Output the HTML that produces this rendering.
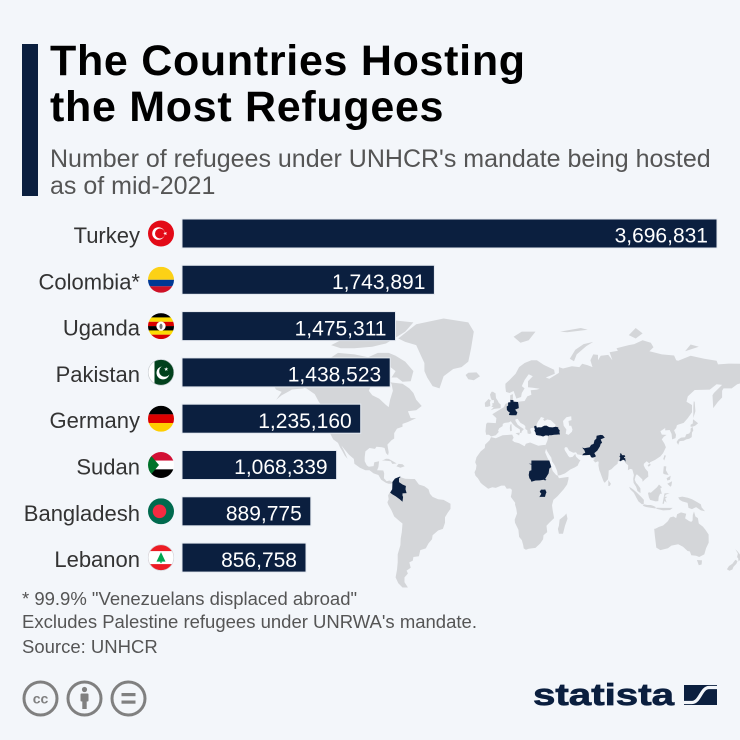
<!DOCTYPE html>
<html><head><meta charset="utf-8"><style>
html,body{margin:0;padding:0;background:#f3f6fa;}
svg{display:block;font-family:"Liberation Sans",Arial,sans-serif;}
</style></head><body>
<svg id="s" width="740" height="740" viewBox="0 0 740 740" xmlns="http://www.w3.org/2000/svg">
<defs><clipPath id="fc"><circle cx="0" cy="0" r="13"/></clipPath></defs>
<rect x="0" y="0" width="740" height="740" fill="#f3f6fa"/>
<g id="map"></g>
<rect x="22" y="44" width="16" height="152" fill="#0b1f3f"/>
<text x="50" y="75" font-size="43" font-weight="bold" fill="#000" letter-spacing="0.7">The Countries Hosting</text>
<text x="50" y="121" font-size="43" font-weight="bold" fill="#000" letter-spacing="0.7">the Most Refugees</text>
<text x="50" y="167" font-size="25" fill="#555">Number of refugees under UNHCR's mandate being hosted</text>
<text x="50" y="194" font-size="25" fill="#555">as of mid-2021</text>

<g stroke="#e4e9f0" stroke-width="1" fill="#0b1f3f">
<rect x="182" y="219" width="535" height="29"/>
<rect x="182" y="265.3" width="252.4" height="29"/>
<rect x="182" y="311.6" width="213.5" height="29"/>
<rect x="182" y="357.9" width="208.2" height="29"/>
<rect x="182" y="404.2" width="178.7" height="29"/>
<rect x="182" y="450.5" width="154.6" height="29"/>
<rect x="182" y="496.8" width="128.8" height="29"/>
<rect x="182" y="543.1" width="124" height="29"/>
</g>
<g font-size="21" fill="#fff" text-anchor="end">
<text x="708" y="242.7">3,696,831</text>
<text x="425.4" y="289">1,743,891</text>
<text x="386.5" y="335.3">1,475,311</text>
<text x="381.2" y="381.6">1,438,523</text>
<text x="351.7" y="427.9">1,235,160</text>
<text x="327.6" y="474.2">1,068,339</text>
<text x="301.8" y="520.5">889,775</text>
<text x="297" y="566.8">856,758</text>
</g>
<g font-size="22" fill="#333" text-anchor="end">
<text x="140" y="243">Turkey</text>
<text x="140" y="289.3">Colombia*</text>
<text x="140" y="335.6">Uganda</text>
<text x="140" y="381.9">Pakistan</text>
<text x="140" y="428.2">Germany</text>
<text x="140" y="474.5">Sudan</text>
<text x="140" y="520.8">Bangladesh</text>
<text x="140" y="567.1">Lebanon</text>
</g>

<!-- Flags -->
<g transform="translate(161,233.5)"><g clip-path="url(#fc)">
<rect x="-13" y="-13" width="26" height="26" fill="#e30a17"/>
<circle cx="-2.5" cy="0" r="6.3" fill="#fff"/><circle cx="-1" cy="0" r="5" fill="#e30a17"/>
<polygon transform="translate(4.3,0) rotate(-90)" points="0,-2.2 0.5,-0.69 2.09,-0.68 0.81,0.26 1.29,1.78 0,0.85 -1.29,1.78 -0.81,0.26 -2.09,-0.68 -0.5,-0.69" fill="#fff"/>
</g></g>
<g transform="translate(161,279.8)"><g clip-path="url(#fc)">
<rect x="-13" y="-13" width="26" height="13" fill="#fcd116"/>
<rect x="-13" y="0" width="26" height="6.5" fill="#003893"/>
<rect x="-13" y="6.5" width="26" height="6.5" fill="#ce1126"/>
</g></g>
<g transform="translate(161,326.1)"><g clip-path="url(#fc)">
<rect x="-13" y="-13" width="26" height="4.4" fill="#000"/>
<rect x="-13" y="-8.7" width="26" height="4.4" fill="#fcdc04"/>
<rect x="-13" y="-4.3" width="26" height="4.4" fill="#d90000"/>
<rect x="-13" y="0" width="26" height="4.4" fill="#000"/>
<rect x="-13" y="4.3" width="26" height="4.4" fill="#fcdc04"/>
<rect x="-13" y="8.6" width="26" height="4.4" fill="#d90000"/>
<circle cx="0" cy="0" r="4.6" fill="#fff"/>
<ellipse cx="0" cy="0.3" rx="1.5" ry="2.8" fill="#777"/>
</g></g>
<g transform="translate(161,372.4)"><g clip-path="url(#fc)">
<rect x="-13" y="-13" width="26" height="26" fill="#01411c"/>
<rect x="-13" y="-13" width="6.5" height="26" fill="#fff"/>
<circle cx="2" cy="0.5" r="6.5" fill="#fff"/><circle cx="3.8" cy="-1.2" r="5.6" fill="#01411c"/>
<polygon transform="translate(5.2,-3.2)" points="0,-2.2 0.5,-0.69 2.09,-0.68 0.81,0.26 1.29,1.78 0,0.85 -1.29,1.78 -0.81,0.26 -2.09,-0.68 -0.5,-0.69" fill="#fff"/>
</g><circle cx="0" cy="0" r="12.8" fill="none" stroke="#c8ccd2" stroke-width="0.6"/></g>
<g transform="translate(161,418.7)"><g clip-path="url(#fc)">
<rect x="-13" y="-13" width="26" height="8.7" fill="#000"/>
<rect x="-13" y="-4.35" width="26" height="8.7" fill="#dd0000"/>
<rect x="-13" y="4.33" width="26" height="8.7" fill="#ffce00"/>
</g></g>
<g transform="translate(161,465)"><g clip-path="url(#fc)">
<rect x="-13" y="-13" width="26" height="8.7" fill="#d21034"/>
<rect x="-13" y="-4.35" width="26" height="8.7" fill="#fff"/>
<rect x="-13" y="4.33" width="26" height="8.7" fill="#000"/>
<polygon points="-13,-13 -2,0 -13,13" fill="#007229"/>
</g></g>
<g transform="translate(161,511.3)"><g clip-path="url(#fc)">
<rect x="-13" y="-13" width="26" height="26" fill="#006a4e"/>
<circle cx="-1.5" cy="0" r="6.8" fill="#f42a41"/>
</g></g>
<g transform="translate(161,557.6)"><g clip-path="url(#fc)">
<rect x="-13" y="-13" width="26" height="26" fill="#ed1c24"/>
<rect x="-13" y="-6.5" width="26" height="13" fill="#fff"/>
<polygon points="0,-5.5 4.5,4 -4.5,4" fill="#00a651"/>
<rect x="-0.6" y="3.5" width="1.2" height="2" fill="#00a651"/>
</g><circle cx="0" cy="0" r="12.8" fill="none" stroke="#d0d4da" stroke-width="0.6"/></g>

<!-- Footer -->
<g font-size="18.5" fill="#555">
<text x="22" y="605">* 99.9% "Venezuelans displaced abroad"</text>
<text x="22" y="628">Excludes Palestine refugees under UNRWA's mandate.</text>
<text x="22" y="653">Source: UNHCR</text>
</g>
<g fill="none" stroke="#808080" stroke-width="3">
<circle cx="40.5" cy="698.5" r="16.5"/>
<circle cx="84.5" cy="698.5" r="16.5"/>
<circle cx="128.5" cy="698.5" r="16.5"/>
</g>
<text x="40.5" y="703.5" font-size="14" font-weight="bold" fill="#808080" text-anchor="middle">cc</text>
<g fill="#808080">
<circle cx="84.5" cy="689.5" r="2.6"/>
<rect x="80.5" y="693.5" width="8" height="8" rx="1"/>
<rect x="82.3" y="700" width="4.4" height="9"/>
<rect x="121.5" y="693" width="14" height="3.2"/>
<rect x="121.5" y="700.5" width="14" height="3.2"/>
</g>
<text x="533" y="705" font-size="31" font-weight="bold" fill="#0b1f3f" stroke="#0b1f3f" stroke-width="0.7" textLength="141" lengthAdjust="spacingAndGlyphs">statista</text>
<rect x="684" y="685" width="33" height="20" fill="#0b1f3f"/>
<path d="M684,702.5 L692,702.5 C700,702.5 701,687.5 709,687.5 L717,687.5" fill="none" stroke="#f3f6fa" stroke-width="3.2"/>
</svg>
<script>
(function(){
function P(lon,lat){var r=lat*Math.PI/180;var m=1.25*Math.log(Math.tan(Math.PI/4+0.4*r))*180/Math.PI;var k=m<0?1.5:1.56;return (498.5+1.372*lon).toFixed(1)+','+(495.4-k*m).toFixed(1);}
function path(a){var s='M';for(var i=0;i<a.length;i+=2){s+=(i?' L':'')+P(a[i],a[i+1]);}return s+'Z';}
var NS='http://www.w3.org/2000/svg';var g=document.getElementById('map');
function add(list,fill){for(var i=0;i<list.length;i++){var p=document.createElementNS(NS,'path');p.setAttribute('d',path(list[i]));p.setAttribute('fill',fill);g.appendChild(p);}}
var land=[
[-165,62,-165,68,-156,71.3,-141,69.6,-128,70,-115,68.5,-95,68,-90,69,-82,69.5,-81,64,-78,62.5,-70,62,-65,60,-62,58,-60,55,-56,52,-60,50,-66,49.5,-64,46,-60,46,-66,44,-70,43,-70,41.5,-74,40.5,-76,38,-76,35,-78,34,-81,31.5,-80,27,-80.5,25.2,-82,26.5,-83,29.5,-85,30,-89,30.2,-90,29,-94,29.5,-97,27.5,-97.5,24,-97.5,21.5,-96,19,-94.5,18.2,-91,18.6,-90.5,21,-87,21.5,-87.5,18,-88.5,16,-84,15.8,-83.3,14,-83.5,11,-81.5,9,-79.5,9.5,-77.5,8.5,-78,7.5,-80,7.5,-82,8,-85.5,10,-87.5,13,-91,14,-94,16,-97,16,-101,17.5,-105,20,-105.5,23,-109,25.5,-112.5,29,-114.5,31,-112,27,-110,23,-112,25,-114,28,-115.5,30,-117,32.5,-120.5,34.5,-122.5,37.5,-124,40.5,-124,46,-124.5,48.5,-127,50.5,-131,54,-134,57.5,-140,60,-147,61,-152,59,-158,57,-162,55,-158,58.5,-162,59.5],
[-125,71,-117,73.5,-105,73,-95,72,-88,73.5,-80,73.5,-75,72.5,-68,70.5,-62,67,-64,63,-70,62.8,-74,64.5,-78,64.5,-75,67,-82,69.8,-90,70.5,-98,69.5,-108,69,-118,69.5],
[-122,76,-115,77.5,-100,79,-90,81,-75,83,-62,82.5,-68,80,-76,78,-82,76.5,-92,75.5,-105,75,-115,75],
[-73,78,-60,82,-40,83.5,-22,82.5,-18,80,-20,75,-22,70.5,-27,68.5,-33,67.8,-40,65,-43,60,-48,61,-52,64.5,-54,67,-54,70,-56,72,-60,76,-68,77],
[-24,65.5,-22,66.4,-16,66.5,-13.5,65,-18,63.4,-22,63.8],
[-85,21.9,-82,23.1,-80,23,-77,21.6,-74.2,20.2,-77.5,19.9,-78.5,21.5,-81,21.8,-83.5,22],
[-74.4,18.4,-72.8,19.9,-70,19.7,-68.4,18.5,-71.5,17.6,-73.5,18.2],
[-77.5,8.5,-75.5,10.7,-72,12,-71,11.5,-68,10.6,-64,10.5,-61,10.5,-58,7,-54,5.8,-51,4,-50,1,-48,-1,-44,-2.5,-40,-3,-35,-5.5,-35,-9,-37,-11.5,-39,-14.5,-39,-18,-40.5,-22,-44,-23,-48,-26,-48.5,-28.5,-51,-31,-53,-34,-57,-35,-58,-38.5,-62,-39,-62.5,-41,-65,-42,-64,-45,-67,-46.5,-66,-48,-68.5,-50,-68.5,-52.5,-66,-55,-70,-55,-73,-53,-75,-50,-74,-46,-73.5,-42,-73.5,-37.5,-71.5,-32,-71.3,-28,-70.5,-24,-70,-18.5,-71.5,-17.5,-76,-14,-78,-10,-80.5,-6,-81,-4.5,-80,-2.5,-80.5,0,-79.5,1.5,-78.5,2.5,-77.5,4,-77.5,7],
[-17,21,-16,24,-13,27.5,-10,29.5,-9.8,31.5,-6.5,34,-5.5,35.8,-2,35.1,3,36.8,10,37.2,11,35.5,10,34,11.5,33,15,32.3,19,30.5,20,32,23,32.7,29,30.8,32,31.2,34.3,31.3,34.8,29.5,34,27,35.5,24,37.3,21,38.5,18,39.5,15.5,42,13,43.3,12.5,44,11,51,11.8,51,10.5,50,7,47.5,4,43,-0.5,40,-3,39,-6.5,39.5,-10,40.5,-15,37,-18,35,-20,35.5,-24,32.8,-26,32.5,-28.5,30.5,-31,27,-33.7,22,-34.2,20,-34.8,18.4,-34,18,-32,17,-29,15,-27,14.5,-22.5,12,-18,11.8,-16,13.5,-12,13,-9,12,-6,12.2,-5,9,-1,9.5,1,9.8,3.5,8.5,4.5,6,4.3,4.5,6.3,2,6.3,-2,4.8,-4.5,5.2,-7.5,4.3,-11.5,6.9,-13,8,-15,11,-16.8,12.5,-17.5,14.7,-16.5,16.5,-16,19],
[44,-25,47,-25,48.5,-20,50.3,-15.5,49.5,-12,48,-13.5,44.5,-16,44,-20,43.3,-22],
[-9,37,-9.5,39,-9,43,-8,43.7,-2,43.4,-1.5,46,-4.5,48,-1,49.5,1.5,50.5,4,51.5,5,53,8.5,54,8.5,57,10.5,57.5,10.5,55,12,54.2,14,54,19,54.4,21,56.5,24,57.2,23.5,59.2,28,59.5,30,59.9,25,60.3,21.5,60.5,21.5,63,25,65,22,65.8,19,63.5,17,61,19,60,17,58,16.5,56.2,13,55.5,12.5,56.5,11,58.9,8,58,5.5,58.5,5,60.5,5,62,8,63.5,12.5,66,15,68.5,19,70,24,71,28,71,31,70,33,69.3,40.5,67.5,41,66,34.5,64.5,37,64,44,66.3,44,68.5,47,68,53.5,68.8,59,68.5,61,69.7,65,69.2,68.5,68.5,67,71,69,73,72.5,72.8,72.5,71,74.5,72.5,80,72.8,83,71,81,73.7,87,74.2,86,75,95,76,99,76.3,105,77.5,111,76.7,113,75.3,110,74,113,73.7,119,73,128,72.6,129.5,71,131,70.8,140,72.5,150,71.5,159,70.8,160,69.5,168,69.8,176,69.7,180,68.9,180,65,178,64.5,179,62.5,174,61.8,170,60,164,60,163,59,163,56,160,54,156.5,51,156,57,157,58,163,61.5,159,61.8,154,59.5,143,59.3,138,56.5,137,54,141,52.5,141,49,138,46,135,43.5,131,42.6,130,42.3,129.5,40.8,128,39.5,129.4,37,129,35.2,126.5,34.5,126.2,37.5,124.8,39.7,121.5,39.5,121.5,40.8,118,39,119,37.2,122.5,37,120.5,36,119,34.5,121,32,122,30,120,26.5,118,24.5,114,22.3,110.5,21,110,20.2,108,21.5,106,20,105.8,19,107,17,109,15,109.2,12,107,10.5,105,8.7,104.8,10.2,102.5,12.2,100.8,13.5,100,12.5,99.3,10,100.3,8,101.5,6.8,103.4,4.5,103.5,1.5,101.3,2.8,100.3,5.5,98.5,8,98.2,10.5,98.7,13,97.5,16.5,96,16.8,94.3,16,94.5,19,92.3,20.7,92,22.7,90.5,22,88.8,21.6,87,21.5,86.8,20,84.5,18.5,82.3,16.6,80.3,15.8,80.2,13,79.8,10.3,78.2,8.9,77.5,8,76.5,9,75,12.5,74.2,14.5,73.5,16,72.8,19,73,21,72.6,21.5,70.5,20.8,69,22.3,70.5,23,68.3,23.6,66.7,25.3,61.5,25.2,57.5,25.7,56.5,27,54.5,26.7,51.5,27.9,50,30,48.5,29.9,48,29,48.5,28,50,26,50.8,24.8,51.5,24.2,52,23.9,54,24.2,56,26,56.4,24.5,57,23.9,58.8,22.5,59.8,22.3,58.5,20.5,57.7,18.9,55.5,17.7,52.5,16.5,48.5,14,45,12.8,43.3,12.7,42.7,15.5,41,19,39,21.5,38.5,23.8,37,25.5,35.2,28,34.5,29.5,34.3,31.3,35.5,33.5,36,34.8,36,36.5,32.5,36.2,30,36.2,27.5,37,26.3,39.3,26.5,40.6,29,41,31.5,41.2,35,42,38.5,40.9,41.5,41.5,41.6,42.5,39.5,44,38,45,35.5,45.3,33.5,44.5,32.5,45.4,33.5,46,31,46.6,30,45.5,29.5,45,28.7,44.2,27.8,42.6,28,41.5,26.3,40.9,24,40.8,23,40.3,24,38,22.8,37.5,21.2,37.8,21,39.5,19.5,40.3,19.5,41.8,18.5,42.5,16,43.5,15,44.5,14,45.6,12.4,45.4,12.3,44.6,14,42.5,16,41.4,18.5,40.2,17,39,16.6,38,15.7,38.2,15.6,40,12.5,41.5,10.5,42.9,9,44.4,7.5,43.8,4.5,43.5,3.1,43,3,41.8,0.5,40.7,-0.3,39.4,0.2,38.7,-2,36.8,-5.4,36.1,-6.4,36.8,-7.5,37.2],
[-5.7,50,-3,50.6,1.5,51,1.7,52.7,0.2,53.5,-0.5,54.5,-1.8,55.7,-2.1,57.5,-1.8,57.6,-3.9,58.6,-5,58.6,-6.2,57.3,-5.6,55.8,-4.9,54.8,-3.3,54.8,-3.4,53.4,-4.6,53.3,-4.3,52.3,-5.2,51.7,-3.5,51.4],
[-6,52,-6.2,53.9,-5.6,54.6,-7.3,55.3,-8.5,54.5,-10,53.5,-9.8,51.7,-8,51.6],
[12.4,38,15.6,38.3,15,36.7],
[8.5,39,9.7,39.2,9.6,41,9.4,43,8.6,42.5,8.2,40.8],
[129.8,33,131,31.3,132,33.5,135,33.7,136.8,34.5,139,34.8,140.8,35.8,141,38.3,142,39.5,141.4,41.4,140,40.5,140,39,139,37.8,136.8,37.3,136,35.7,133,35.5,131,34.4],
[140,41.5,141.3,41.5,143.3,42,145.5,43.3,144,44.2,141.8,45.4,141.6,43.2,140,42.5],
[142,46,143.5,49.5,143,54,142.3,54.2,142,51],
[80,9.8,81.9,7.5,81.2,6.2,80,6],
[120.1,23,121,25.3,122,25,120.8,22],
[108.7,19.2,110.5,20.1,110.9,19.3,109.5,18.2],
[120,14,120.5,18.5,122.3,18.4,122,16,124,13,121,13.5],
[122,7,126.5,9,126,6.3,125.4,5.6,123,7.5],
[122.5,11,125.5,12.5,125,10,123,9.5],
[95.2,5.6,98,4,100.5,2,104,-1,106,-3,105.8,-5.8,104.5,-5.9,102,-4,100.5,-1.5,98.6,1.7,96,4],
[105.2,-6.8,106,-5.9,108.5,-6.4,111,-6.4,112.7,-6.9,114.5,-7.7,114.5,-8.7,111,-8.2,108,-7.8,106.5,-7.4],
[109,1.5,109.6,-1.3,110.5,-3,114.5,-4,116.5,-3.8,116.8,-1,117.8,1,119,1,118,4.5,119.2,5.2,117,7,115.5,5.2,113,3.2,111,1.7,109.6,2],
[119.5,-5.5,120.5,-1,121,1.3,124.8,1.5,122,0.5,121,-0.8,123,-1,121.5,-2,122.5,-4.8,121,-3.5,120.5,-5.6],
[131,-1.3,134,-0.8,138,-1.5,141,-2.6,145,-4.5,147.5,-6,148,-8,150.5,-10.5,147.5,-10,144,-7.8,141,-9.1,138.5,-8.3,137.8,-5,134,-4,132,-2.9],
[115,-8.2,120,-8.3,125,-8.3,127,-8.3,125,-9.7,120,-10,115,-8.9],
[113.5,-22,114,-26.5,115,-33.5,118,-35,123.5,-33.9,126,-32.3,131,-31.5,134.5,-33,137.8,-35.5,139.5,-35.8,140.5,-38,144,-38.3,146.3,-39,150,-37.5,151.3,-33.8,153.2,-30.5,153.1,-25.5,150.8,-22.5,149,-20.5,146,-18.5,145.3,-15,143.5,-14,142.5,-10.7,141.6,-13,141.5,-16.5,140.5,-17.5,139,-17,136,-15.2,136.8,-12.2,133,-11.3,130.2,-12.5,129.5,-15,127.5,-14,125,-14.6,123.5,-17,122.2,-18,120,-19.8,117,-20.7,114.5,-21.8],
[144.6,-40.7,148.3,-40.9,148,-43.2,146,-43.6],
[172.6,-34.4,174.5,-36,176,-37.6,178.5,-37.7,177,-39.3,176.8,-40,175,-41.5,174.6,-39.5,173.8,-39.2,174.5,-37],
[172.7,-40.5,174.2,-41.3,173.4,-42.8,171.3,-44.4,170.5,-45.9,168.3,-46.6,166.5,-45.8,168,-44,170.5,-42.8],
[11,78.5,17,80,27,80,22,77.5,16,76.7],
[52,71.5,56,74.5,62,76.3,69,77,64,75.7,57,73,55,70.6],
[45,80,60,81,65,80.5,50,79.8],
[95,79,100,81,105,79.5,100,78],
[136,74,146,75.5,140,76.2],
[-142,60,-141,69.6,-150,70.5,-160,70.5,-166,68.5,-163,66,-168,65.5,-161,64,-165,62,-160,59]
];
add(land,'#d4d6d9');
add([
[-94.5,59,-93,61,-88,64,-82,63.5,-78,62,-77,59,-79,55,-80,51.5,-82,52.5,-87,55.5,-92,57],
[47,44.5,49.5,46.5,53,47,53.2,45,51,44.5,51.5,42,53,42,53.9,40,53.5,38.8,51,37,49,37.6,49.5,40,47.5,42]
],'#f3f6fa');
add([
[6,51.8,6.1,50.1,7.5,49.1,8.2,49,7.6,47.6,9.6,47.5,13,47.5,13.8,48.8,12.1,50.3,14.8,51,14.6,52.6,14.2,53.9,11,54,10.8,54.8,8.6,54.9,8.7,53.8,7,53.7,7,52.2],
[26.1,40.9,26.5,40.1,26.2,39.4,27,38.4,27.3,37,28.3,36.8,30.6,36.6,32.5,36.1,34.5,36.8,36.2,36.6,36.5,36.2,36.7,36.8,38.5,36.8,40.5,37.1,42.3,37.2,44.3,37.3,44.8,37.2,44.4,38.5,44.6,39.6,43.6,40.3,43.6,41.1,41.6,41.5,39.5,41.1,36.9,41.3,35,42.1,33.3,42,31.1,41.1,29.2,41.2,28,41,27.4,42,26.1,41.9],
[61,25.2,64,25.3,66.7,25.4,67.5,24,68.5,23.8,70.5,24.2,71,24.7,69.8,26.5,72,28,74,30.5,74.5,32,75.5,32.5,74.5,34.5,77.5,35.5,76,36.8,74.5,37,71.5,36.5,71.3,34.8,70,34,69.3,31.9,67.5,31.3,66.4,29.9,62.5,29.4,60.9,29.8,62.5,28.3,63.3,26.7,61.8,26.2],
[88.1,22,88.8,21.6,89.7,22,90.6,22.5,91.8,22.3,92.3,21.3,92.6,21.9,92.3,23.7,91.8,23.3,91.4,24.1,92.4,24.3,92,25.2,89.9,25.3,89.8,26,88.5,26.4,88.8,25.2,88.1,24.5,88.7,23.9,88.6,23.1],
[22,20,24,20,24,22,37,22,38.5,18,37,17,36.5,14,34,10.5,35,10,34,9.5,33,10,30,9.6,27,9.5,24,8.7,23.5,10,22.5,11,22,13,22.5,15.5,24,16,24,19.5],
[30,-1,33.9,-1,34.5,1,35,2,34,4,33.5,3.7,31,3.7,30,2.3,31.2,1,29.6,-1.4],
[-77.3,8.6,-75.5,10.7,-72,12,-71.3,11.8,-72.5,11,-72.5,8.5,-70,7,-67.5,6,-67.8,4,-67,1.5,-70,1.3,-70,-0.2,-69.5,-1,-70,-4.2,-72,-2.5,-75,-0.5,-77.5,0.8,-79,1.8,-77.5,4,-77.3,7]
],'#0b1f3f');
})();
</script>
</body></html>
